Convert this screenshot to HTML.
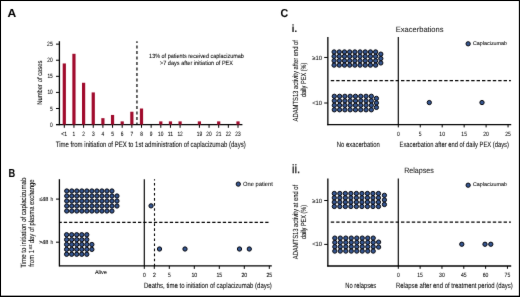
<!DOCTYPE html>
<html><head><meta charset="utf-8"><title>Figure</title>
<style>
html,body{margin:0;padding:0;background:#fff;}
body{width:520px;height:297px;overflow:hidden;}
svg{display:block;font-family:"Liberation Sans", sans-serif;will-change:transform;text-rendering:geometricPrecision;}
</style></head><body>
<svg xmlns="http://www.w3.org/2000/svg" width="520" height="297" viewBox="0 0 520 297">
<defs><filter id="soft" color-interpolation-filters="sRGB" x="0" y="0" width="520" height="297" filterUnits="userSpaceOnUse"><feConvolveMatrix order="3" kernelMatrix="0.008 0.08 0.008 0.08 1 0.08 0.008 0.08 0.008" edgeMode="duplicate" preserveAlpha="true"/></filter></defs>
<g filter="url(#soft)">
<rect x="0" y="0" width="520" height="297" fill="#fff"/>
<text x="7.40" y="16.80" font-size="11.6" font-weight="bold" fill="#000" stroke="#000" stroke-width="0.06" textLength="8.70" lengthAdjust="spacingAndGlyphs">A</text>
<line x1="59.40" y1="41.20" x2="59.40" y2="125.20" stroke="#000000" stroke-width="1.3"/>
<line x1="56.00" y1="124.60" x2="242.40" y2="124.60" stroke="#000000" stroke-width="1.3"/>
<line x1="56.00" y1="124.60" x2="59.40" y2="124.60" stroke="#000000" stroke-width="1.0"/>
<text x="50.00" y="126.60" font-size="6.32" font-weight="normal" fill="#000000" stroke="#000000" stroke-width="0.06" textLength="2.70" lengthAdjust="spacingAndGlyphs">0</text>
<line x1="56.00" y1="108.51" x2="59.40" y2="108.51" stroke="#000000" stroke-width="1.0"/>
<text x="50.00" y="110.51" font-size="6.32" font-weight="normal" fill="#000000" stroke="#000000" stroke-width="0.06" textLength="2.70" lengthAdjust="spacingAndGlyphs">5</text>
<line x1="56.00" y1="92.42" x2="59.40" y2="92.42" stroke="#000000" stroke-width="1.0"/>
<text x="47.40" y="94.42" font-size="6.32" font-weight="normal" fill="#000000" stroke="#000000" stroke-width="0.06" textLength="5.30" lengthAdjust="spacingAndGlyphs">10</text>
<line x1="56.00" y1="76.33" x2="59.40" y2="76.33" stroke="#000000" stroke-width="1.0"/>
<text x="47.40" y="78.33" font-size="6.32" font-weight="normal" fill="#000000" stroke="#000000" stroke-width="0.06" textLength="5.30" lengthAdjust="spacingAndGlyphs">15</text>
<line x1="56.00" y1="60.24" x2="59.40" y2="60.24" stroke="#000000" stroke-width="1.0"/>
<text x="47.30" y="62.24" font-size="6.32" font-weight="normal" fill="#000000" stroke="#000000" stroke-width="0.06" textLength="5.40" lengthAdjust="spacingAndGlyphs">20</text>
<line x1="56.00" y1="44.15" x2="59.40" y2="44.15" stroke="#000000" stroke-width="1.0"/>
<text x="47.10" y="46.15" font-size="6.32" font-weight="normal" fill="#000000" stroke="#000000" stroke-width="0.06" textLength="5.60" lengthAdjust="spacingAndGlyphs">25</text>
<line x1="64.30" y1="124.60" x2="64.30" y2="127.80" stroke="#000000" stroke-width="1.0"/>
<text x="61.35" y="135.80" font-size="6.32" font-weight="normal" fill="#000000" stroke="#000000" stroke-width="0.06" textLength="5.90" lengthAdjust="spacingAndGlyphs">&lt;1</text>
<rect x="62.70" y="63.46" width="3.2" height="61.14" fill="#a00a2c"/>
<line x1="73.95" y1="124.60" x2="73.95" y2="127.80" stroke="#000000" stroke-width="1.0"/>
<text x="72.60" y="135.80" font-size="6.32" font-weight="normal" fill="#000000" stroke="#000000" stroke-width="0.06" textLength="2.70" lengthAdjust="spacingAndGlyphs">1</text>
<rect x="72.35" y="53.80" width="3.2" height="70.80" fill="#a00a2c"/>
<line x1="83.60" y1="124.60" x2="83.60" y2="127.80" stroke="#000000" stroke-width="1.0"/>
<text x="82.25" y="135.80" font-size="6.32" font-weight="normal" fill="#000000" stroke="#000000" stroke-width="0.06" textLength="2.70" lengthAdjust="spacingAndGlyphs">2</text>
<rect x="82.00" y="82.77" width="3.2" height="41.83" fill="#a00a2c"/>
<line x1="93.25" y1="124.60" x2="93.25" y2="127.80" stroke="#000000" stroke-width="1.0"/>
<text x="91.90" y="135.80" font-size="6.32" font-weight="normal" fill="#000000" stroke="#000000" stroke-width="0.06" textLength="2.70" lengthAdjust="spacingAndGlyphs">3</text>
<rect x="91.65" y="92.42" width="3.2" height="32.18" fill="#a00a2c"/>
<line x1="102.90" y1="124.60" x2="102.90" y2="127.80" stroke="#000000" stroke-width="1.0"/>
<text x="101.55" y="135.80" font-size="6.32" font-weight="normal" fill="#000000" stroke="#000000" stroke-width="0.06" textLength="2.70" lengthAdjust="spacingAndGlyphs">4</text>
<rect x="101.30" y="118.16" width="3.2" height="6.44" fill="#a00a2c"/>
<line x1="112.55" y1="124.60" x2="112.55" y2="127.80" stroke="#000000" stroke-width="1.0"/>
<text x="111.20" y="135.80" font-size="6.32" font-weight="normal" fill="#000000" stroke="#000000" stroke-width="0.06" textLength="2.70" lengthAdjust="spacingAndGlyphs">5</text>
<rect x="110.95" y="114.95" width="3.2" height="9.65" fill="#a00a2c"/>
<line x1="122.20" y1="124.60" x2="122.20" y2="127.80" stroke="#000000" stroke-width="1.0"/>
<text x="120.85" y="135.80" font-size="6.32" font-weight="normal" fill="#000000" stroke="#000000" stroke-width="0.06" textLength="2.70" lengthAdjust="spacingAndGlyphs">6</text>
<rect x="120.60" y="121.38" width="3.2" height="3.22" fill="#a00a2c"/>
<line x1="131.85" y1="124.60" x2="131.85" y2="127.80" stroke="#000000" stroke-width="1.0"/>
<text x="130.50" y="135.80" font-size="6.32" font-weight="normal" fill="#000000" stroke="#000000" stroke-width="0.06" textLength="2.70" lengthAdjust="spacingAndGlyphs">7</text>
<rect x="130.25" y="111.73" width="3.2" height="12.87" fill="#a00a2c"/>
<line x1="141.50" y1="124.60" x2="141.50" y2="127.80" stroke="#000000" stroke-width="1.0"/>
<text x="140.15" y="135.80" font-size="6.32" font-weight="normal" fill="#000000" stroke="#000000" stroke-width="0.06" textLength="2.70" lengthAdjust="spacingAndGlyphs">8</text>
<rect x="139.90" y="108.51" width="3.2" height="16.09" fill="#a00a2c"/>
<line x1="151.15" y1="124.60" x2="151.15" y2="127.80" stroke="#000000" stroke-width="1.0"/>
<text x="149.80" y="135.80" font-size="6.32" font-weight="normal" fill="#000000" stroke="#000000" stroke-width="0.06" textLength="2.70" lengthAdjust="spacingAndGlyphs">9</text>
<line x1="160.80" y1="124.60" x2="160.80" y2="127.80" stroke="#000000" stroke-width="1.0"/>
<text x="158.10" y="135.80" font-size="6.32" font-weight="normal" fill="#000000" stroke="#000000" stroke-width="0.06" textLength="5.40" lengthAdjust="spacingAndGlyphs">10</text>
<rect x="159.20" y="121.38" width="3.2" height="3.22" fill="#a00a2c"/>
<line x1="170.45" y1="124.60" x2="170.45" y2="127.80" stroke="#000000" stroke-width="1.0"/>
<text x="167.75" y="135.80" font-size="6.32" font-weight="normal" fill="#000000" stroke="#000000" stroke-width="0.06" textLength="5.40" lengthAdjust="spacingAndGlyphs">11</text>
<rect x="168.85" y="121.38" width="3.2" height="3.22" fill="#a00a2c"/>
<line x1="180.10" y1="124.60" x2="180.10" y2="127.80" stroke="#000000" stroke-width="1.0"/>
<text x="177.40" y="135.80" font-size="6.32" font-weight="normal" fill="#000000" stroke="#000000" stroke-width="0.06" textLength="5.40" lengthAdjust="spacingAndGlyphs">12</text>
<rect x="178.50" y="121.38" width="3.2" height="3.22" fill="#a00a2c"/>
<line x1="199.40" y1="124.60" x2="199.40" y2="127.80" stroke="#000000" stroke-width="1.0"/>
<text x="196.70" y="135.80" font-size="6.32" font-weight="normal" fill="#000000" stroke="#000000" stroke-width="0.06" textLength="5.40" lengthAdjust="spacingAndGlyphs">19</text>
<rect x="197.80" y="121.38" width="3.2" height="3.22" fill="#a00a2c"/>
<line x1="209.05" y1="124.60" x2="209.05" y2="127.80" stroke="#000000" stroke-width="1.0"/>
<text x="206.35" y="135.80" font-size="6.32" font-weight="normal" fill="#000000" stroke="#000000" stroke-width="0.06" textLength="5.40" lengthAdjust="spacingAndGlyphs">20</text>
<line x1="218.70" y1="124.60" x2="218.70" y2="127.80" stroke="#000000" stroke-width="1.0"/>
<text x="216.00" y="135.80" font-size="6.32" font-weight="normal" fill="#000000" stroke="#000000" stroke-width="0.06" textLength="5.40" lengthAdjust="spacingAndGlyphs">21</text>
<rect x="217.10" y="121.38" width="3.2" height="3.22" fill="#a00a2c"/>
<line x1="228.35" y1="124.60" x2="228.35" y2="127.80" stroke="#000000" stroke-width="1.0"/>
<text x="225.65" y="135.80" font-size="6.32" font-weight="normal" fill="#000000" stroke="#000000" stroke-width="0.06" textLength="5.40" lengthAdjust="spacingAndGlyphs">22</text>
<line x1="238.00" y1="124.60" x2="238.00" y2="127.80" stroke="#000000" stroke-width="1.0"/>
<text x="235.30" y="135.80" font-size="6.32" font-weight="normal" fill="#000000" stroke="#000000" stroke-width="0.06" textLength="5.40" lengthAdjust="spacingAndGlyphs">23</text>
<rect x="236.40" y="121.38" width="3.2" height="3.22" fill="#a00a2c"/>
<line x1="136.95" y1="41.20" x2="136.95" y2="124.60" stroke="#000000" stroke-width="1.2" stroke-dasharray="3,2.5" stroke-dashoffset="1.2"/>
<text x="149.10" y="58.10" font-size="6.1" font-weight="normal" fill="#000000" stroke="#000000" stroke-width="0.06" textLength="94.80" lengthAdjust="spacingAndGlyphs">13% of patients received caplacizumab</text>
<text x="160.00" y="64.80" font-size="6.1" font-weight="normal" fill="#000000" stroke="#000000" stroke-width="0.06" textLength="73.00" lengthAdjust="spacingAndGlyphs">&gt;7 days after initiation of PEX</text>
<text x="55.80" y="146.50" font-size="7.79" font-weight="normal" fill="#000000" stroke="#000000" stroke-width="0.06" textLength="189.90" lengthAdjust="spacingAndGlyphs">Time from initiation of PEX to 1st administration of caplacizumab (days)</text>
<text transform="translate(41.50,104.80) rotate(-90)" x="0" y="0" font-size="6.87" fill="#000000" stroke="#000000" stroke-width="0.06" textLength="44.30" lengthAdjust="spacingAndGlyphs">Number of cases</text>
<text x="8.40" y="176.50" font-size="11.6" font-weight="bold" fill="#000" stroke="#000" stroke-width="0.06" textLength="6.70" lengthAdjust="spacingAndGlyphs">B</text>
<line x1="59.40" y1="179.20" x2="59.40" y2="266.50" stroke="#000000" stroke-width="1.3"/>
<line x1="59.40" y1="265.90" x2="271.80" y2="265.90" stroke="#000000" stroke-width="1.3"/>
<line x1="56.00" y1="199.10" x2="59.40" y2="199.10" stroke="#000000" stroke-width="1.0"/>
<text x="39.25" y="201.00" font-size="5.67" font-weight="normal" fill="#000000" stroke="#000000" stroke-width="0.06" textLength="9.05" lengthAdjust="spacingAndGlyphs">&#8804;48</text>
<text x="50.40" y="201.00" font-size="5.67" font-weight="normal" fill="#000000" stroke="#000000" stroke-width="0.06" textLength="2.70" lengthAdjust="spacingAndGlyphs">h</text>
<line x1="56.00" y1="242.20" x2="59.40" y2="242.20" stroke="#000000" stroke-width="1.0"/>
<text x="39.00" y="244.00" font-size="5.67" font-weight="normal" fill="#000000" stroke="#000000" stroke-width="0.06" textLength="9.30" lengthAdjust="spacingAndGlyphs">&gt;48</text>
<text x="50.40" y="244.00" font-size="5.67" font-weight="normal" fill="#000000" stroke="#000000" stroke-width="0.06" textLength="2.70" lengthAdjust="spacingAndGlyphs">h</text>
<line x1="144.30" y1="179.30" x2="144.30" y2="265.90" stroke="#000000" stroke-width="1.15"/>
<line x1="144.30" y1="265.90" x2="144.30" y2="268.90" stroke="#000000" stroke-width="1.0"/>
<text x="142.90" y="276.80" font-size="6.0" font-weight="normal" fill="#000000" stroke="#000000" stroke-width="0.06" textLength="2.80" lengthAdjust="spacingAndGlyphs">0</text>
<line x1="154.30" y1="265.90" x2="154.30" y2="268.90" stroke="#000000" stroke-width="1.0"/>
<text x="152.90" y="276.80" font-size="6.0" font-weight="normal" fill="#000000" stroke="#000000" stroke-width="0.06" textLength="2.80" lengthAdjust="spacingAndGlyphs">2</text>
<line x1="169.30" y1="265.90" x2="169.30" y2="268.90" stroke="#000000" stroke-width="1.0"/>
<text x="167.90" y="276.80" font-size="6.0" font-weight="normal" fill="#000000" stroke="#000000" stroke-width="0.06" textLength="2.80" lengthAdjust="spacingAndGlyphs">5</text>
<line x1="194.30" y1="265.90" x2="194.30" y2="268.90" stroke="#000000" stroke-width="1.0"/>
<text x="191.40" y="276.80" font-size="6.0" font-weight="normal" fill="#000000" stroke="#000000" stroke-width="0.06" textLength="5.80" lengthAdjust="spacingAndGlyphs">10</text>
<line x1="219.30" y1="265.90" x2="219.30" y2="268.90" stroke="#000000" stroke-width="1.0"/>
<text x="216.40" y="276.80" font-size="6.0" font-weight="normal" fill="#000000" stroke="#000000" stroke-width="0.06" textLength="5.80" lengthAdjust="spacingAndGlyphs">15</text>
<line x1="244.30" y1="265.90" x2="244.30" y2="268.90" stroke="#000000" stroke-width="1.0"/>
<text x="241.40" y="276.80" font-size="6.0" font-weight="normal" fill="#000000" stroke="#000000" stroke-width="0.06" textLength="5.80" lengthAdjust="spacingAndGlyphs">20</text>
<line x1="269.30" y1="265.90" x2="269.30" y2="268.90" stroke="#000000" stroke-width="1.0"/>
<text x="266.40" y="276.80" font-size="6.0" font-weight="normal" fill="#000000" stroke="#000000" stroke-width="0.06" textLength="5.80" lengthAdjust="spacingAndGlyphs">25</text>
<line x1="154.50" y1="179.30" x2="154.50" y2="265.90" stroke="#000000" stroke-width="1.1" stroke-dasharray="2.6,2.45" stroke-dashoffset="1.45"/>
<line x1="59.40" y1="222.40" x2="268.70" y2="222.40" stroke="#000000" stroke-width="1.2" stroke-dasharray="3.3,2.0" stroke-dashoffset="0.9"/>
<text x="94.90" y="273.80" font-size="5.56" font-weight="normal" fill="#000000" stroke="#000000" stroke-width="0.06" textLength="12.00" lengthAdjust="spacingAndGlyphs">Alive</text>
<text x="144.00" y="287.50" font-size="7.63" font-weight="normal" fill="#000000" stroke="#000000" stroke-width="0.06" textLength="127.80" lengthAdjust="spacingAndGlyphs">Deaths, time to initiation of caplacizumab (days)</text>
<text transform="translate(25.70,267.80) rotate(-90)" x="0" y="0" font-size="7.52" fill="#000000" stroke="#000000" stroke-width="0.06" textLength="90.10" lengthAdjust="spacingAndGlyphs">Time to initiation of caplacizumab</text>
<text transform="translate(33.80,266.80) rotate(-90)" x="0" y="0" font-size="7.52" fill="#000000" stroke="#000000" stroke-width="0.06" textLength="16.90" lengthAdjust="spacingAndGlyphs">from 1</text>
<text transform="translate(31.60,249.40) rotate(-90)" x="0" y="0" font-size="4.69" fill="#000000" stroke="#000000" stroke-width="0.06" textLength="5.00" lengthAdjust="spacingAndGlyphs">st</text>
<text transform="translate(33.80,243.20) rotate(-90)" x="0" y="0" font-size="7.52" fill="#000000" stroke="#000000" stroke-width="0.06" textLength="63.80" lengthAdjust="spacingAndGlyphs">day of plasma exchange</text>
<circle cx="66.75" cy="191.00" r="2.15" fill="#355691" stroke="#05060c" stroke-width="1.0"/>
<circle cx="71.77" cy="191.00" r="2.15" fill="#355691" stroke="#05060c" stroke-width="1.0"/>
<circle cx="76.79" cy="191.00" r="2.15" fill="#355691" stroke="#05060c" stroke-width="1.0"/>
<circle cx="81.81" cy="191.00" r="2.15" fill="#355691" stroke="#05060c" stroke-width="1.0"/>
<circle cx="86.83" cy="191.00" r="2.15" fill="#355691" stroke="#05060c" stroke-width="1.0"/>
<circle cx="91.85" cy="191.00" r="2.15" fill="#355691" stroke="#05060c" stroke-width="1.0"/>
<circle cx="96.87" cy="191.00" r="2.15" fill="#355691" stroke="#05060c" stroke-width="1.0"/>
<circle cx="101.89" cy="191.00" r="2.15" fill="#355691" stroke="#05060c" stroke-width="1.0"/>
<circle cx="106.91" cy="191.00" r="2.15" fill="#355691" stroke="#05060c" stroke-width="1.0"/>
<circle cx="111.93" cy="191.00" r="2.15" fill="#355691" stroke="#05060c" stroke-width="1.0"/>
<circle cx="66.75" cy="196.00" r="2.15" fill="#355691" stroke="#05060c" stroke-width="1.0"/>
<circle cx="71.77" cy="196.00" r="2.15" fill="#355691" stroke="#05060c" stroke-width="1.0"/>
<circle cx="76.79" cy="196.00" r="2.15" fill="#355691" stroke="#05060c" stroke-width="1.0"/>
<circle cx="81.81" cy="196.00" r="2.15" fill="#355691" stroke="#05060c" stroke-width="1.0"/>
<circle cx="86.83" cy="196.00" r="2.15" fill="#355691" stroke="#05060c" stroke-width="1.0"/>
<circle cx="91.85" cy="196.00" r="2.15" fill="#355691" stroke="#05060c" stroke-width="1.0"/>
<circle cx="96.87" cy="196.00" r="2.15" fill="#355691" stroke="#05060c" stroke-width="1.0"/>
<circle cx="101.89" cy="196.00" r="2.15" fill="#355691" stroke="#05060c" stroke-width="1.0"/>
<circle cx="106.91" cy="196.00" r="2.15" fill="#355691" stroke="#05060c" stroke-width="1.0"/>
<circle cx="111.93" cy="196.00" r="2.15" fill="#355691" stroke="#05060c" stroke-width="1.0"/>
<circle cx="66.75" cy="201.00" r="2.15" fill="#355691" stroke="#05060c" stroke-width="1.0"/>
<circle cx="71.77" cy="201.00" r="2.15" fill="#355691" stroke="#05060c" stroke-width="1.0"/>
<circle cx="76.79" cy="201.00" r="2.15" fill="#355691" stroke="#05060c" stroke-width="1.0"/>
<circle cx="81.81" cy="201.00" r="2.15" fill="#355691" stroke="#05060c" stroke-width="1.0"/>
<circle cx="86.83" cy="201.00" r="2.15" fill="#355691" stroke="#05060c" stroke-width="1.0"/>
<circle cx="91.85" cy="201.00" r="2.15" fill="#355691" stroke="#05060c" stroke-width="1.0"/>
<circle cx="96.87" cy="201.00" r="2.15" fill="#355691" stroke="#05060c" stroke-width="1.0"/>
<circle cx="101.89" cy="201.00" r="2.15" fill="#355691" stroke="#05060c" stroke-width="1.0"/>
<circle cx="106.91" cy="201.00" r="2.15" fill="#355691" stroke="#05060c" stroke-width="1.0"/>
<circle cx="111.93" cy="201.00" r="2.15" fill="#355691" stroke="#05060c" stroke-width="1.0"/>
<circle cx="66.75" cy="206.00" r="2.15" fill="#355691" stroke="#05060c" stroke-width="1.0"/>
<circle cx="71.77" cy="206.00" r="2.15" fill="#355691" stroke="#05060c" stroke-width="1.0"/>
<circle cx="76.79" cy="206.00" r="2.15" fill="#355691" stroke="#05060c" stroke-width="1.0"/>
<circle cx="81.81" cy="206.00" r="2.15" fill="#355691" stroke="#05060c" stroke-width="1.0"/>
<circle cx="86.83" cy="206.00" r="2.15" fill="#355691" stroke="#05060c" stroke-width="1.0"/>
<circle cx="91.85" cy="206.00" r="2.15" fill="#355691" stroke="#05060c" stroke-width="1.0"/>
<circle cx="96.87" cy="206.00" r="2.15" fill="#355691" stroke="#05060c" stroke-width="1.0"/>
<circle cx="101.89" cy="206.00" r="2.15" fill="#355691" stroke="#05060c" stroke-width="1.0"/>
<circle cx="106.91" cy="206.00" r="2.15" fill="#355691" stroke="#05060c" stroke-width="1.0"/>
<circle cx="111.93" cy="206.00" r="2.15" fill="#355691" stroke="#05060c" stroke-width="1.0"/>
<circle cx="66.75" cy="211.00" r="2.15" fill="#355691" stroke="#05060c" stroke-width="1.0"/>
<circle cx="71.77" cy="211.00" r="2.15" fill="#355691" stroke="#05060c" stroke-width="1.0"/>
<circle cx="76.79" cy="211.00" r="2.15" fill="#355691" stroke="#05060c" stroke-width="1.0"/>
<circle cx="81.81" cy="211.00" r="2.15" fill="#355691" stroke="#05060c" stroke-width="1.0"/>
<circle cx="86.83" cy="211.00" r="2.15" fill="#355691" stroke="#05060c" stroke-width="1.0"/>
<circle cx="91.85" cy="211.00" r="2.15" fill="#355691" stroke="#05060c" stroke-width="1.0"/>
<circle cx="96.87" cy="211.00" r="2.15" fill="#355691" stroke="#05060c" stroke-width="1.0"/>
<circle cx="101.89" cy="211.00" r="2.15" fill="#355691" stroke="#05060c" stroke-width="1.0"/>
<circle cx="106.91" cy="211.00" r="2.15" fill="#355691" stroke="#05060c" stroke-width="1.0"/>
<circle cx="111.93" cy="211.00" r="2.15" fill="#355691" stroke="#05060c" stroke-width="1.0"/>
<circle cx="116.95" cy="196.00" r="2.15" fill="#355691" stroke="#05060c" stroke-width="1.0"/>
<circle cx="116.95" cy="201.00" r="2.15" fill="#355691" stroke="#05060c" stroke-width="1.0"/>
<circle cx="116.95" cy="206.00" r="2.15" fill="#355691" stroke="#05060c" stroke-width="1.0"/>
<circle cx="66.60" cy="234.75" r="2.15" fill="#355691" stroke="#05060c" stroke-width="1.0"/>
<circle cx="71.65" cy="234.75" r="2.15" fill="#355691" stroke="#05060c" stroke-width="1.0"/>
<circle cx="76.70" cy="234.75" r="2.15" fill="#355691" stroke="#05060c" stroke-width="1.0"/>
<circle cx="81.75" cy="234.75" r="2.15" fill="#355691" stroke="#05060c" stroke-width="1.0"/>
<circle cx="86.80" cy="234.75" r="2.15" fill="#355691" stroke="#05060c" stroke-width="1.0"/>
<circle cx="66.60" cy="239.63" r="2.15" fill="#355691" stroke="#05060c" stroke-width="1.0"/>
<circle cx="71.65" cy="239.63" r="2.15" fill="#355691" stroke="#05060c" stroke-width="1.0"/>
<circle cx="76.70" cy="239.63" r="2.15" fill="#355691" stroke="#05060c" stroke-width="1.0"/>
<circle cx="81.75" cy="239.63" r="2.15" fill="#355691" stroke="#05060c" stroke-width="1.0"/>
<circle cx="86.80" cy="239.63" r="2.15" fill="#355691" stroke="#05060c" stroke-width="1.0"/>
<circle cx="66.60" cy="244.51" r="2.15" fill="#355691" stroke="#05060c" stroke-width="1.0"/>
<circle cx="71.65" cy="244.51" r="2.15" fill="#355691" stroke="#05060c" stroke-width="1.0"/>
<circle cx="76.70" cy="244.51" r="2.15" fill="#355691" stroke="#05060c" stroke-width="1.0"/>
<circle cx="81.75" cy="244.51" r="2.15" fill="#355691" stroke="#05060c" stroke-width="1.0"/>
<circle cx="86.80" cy="244.51" r="2.15" fill="#355691" stroke="#05060c" stroke-width="1.0"/>
<circle cx="66.60" cy="249.39" r="2.15" fill="#355691" stroke="#05060c" stroke-width="1.0"/>
<circle cx="71.65" cy="249.39" r="2.15" fill="#355691" stroke="#05060c" stroke-width="1.0"/>
<circle cx="76.70" cy="249.39" r="2.15" fill="#355691" stroke="#05060c" stroke-width="1.0"/>
<circle cx="81.75" cy="249.39" r="2.15" fill="#355691" stroke="#05060c" stroke-width="1.0"/>
<circle cx="86.80" cy="249.39" r="2.15" fill="#355691" stroke="#05060c" stroke-width="1.0"/>
<circle cx="66.60" cy="254.27" r="2.15" fill="#355691" stroke="#05060c" stroke-width="1.0"/>
<circle cx="71.65" cy="254.27" r="2.15" fill="#355691" stroke="#05060c" stroke-width="1.0"/>
<circle cx="76.70" cy="254.27" r="2.15" fill="#355691" stroke="#05060c" stroke-width="1.0"/>
<circle cx="81.75" cy="254.27" r="2.15" fill="#355691" stroke="#05060c" stroke-width="1.0"/>
<circle cx="86.80" cy="254.27" r="2.15" fill="#355691" stroke="#05060c" stroke-width="1.0"/>
<circle cx="91.85" cy="244.51" r="2.15" fill="#355691" stroke="#05060c" stroke-width="1.0"/>
<circle cx="91.85" cy="249.39" r="2.15" fill="#355691" stroke="#05060c" stroke-width="1.0"/>
<circle cx="151.05" cy="205.85" r="2.15" fill="#355691" stroke="#05060c" stroke-width="1.0"/>
<circle cx="159.50" cy="249.00" r="2.15" fill="#355691" stroke="#05060c" stroke-width="1.0"/>
<circle cx="185.00" cy="249.00" r="2.15" fill="#355691" stroke="#05060c" stroke-width="1.0"/>
<circle cx="239.50" cy="249.00" r="2.15" fill="#355691" stroke="#05060c" stroke-width="1.0"/>
<circle cx="249.30" cy="249.00" r="2.15" fill="#355691" stroke="#05060c" stroke-width="1.0"/>
<circle cx="238.30" cy="184.10" r="2.15" fill="#355691" stroke="#05060c" stroke-width="1.0"/>
<text x="243.00" y="185.90" font-size="5.89" font-weight="normal" fill="#000000" stroke="#000000" stroke-width="0.06" textLength="29.80" lengthAdjust="spacingAndGlyphs">One patient</text>
<text x="280.50" y="17.20" font-size="11.6" font-weight="bold" fill="#000" stroke="#000" stroke-width="0.06" textLength="7.70" lengthAdjust="spacingAndGlyphs">C</text>
<text x="291.80" y="31.70" font-size="10.5" font-weight="bold" fill="#000" stroke="#000" stroke-width="0.06" textLength="5.20" lengthAdjust="spacingAndGlyphs">i.</text>
<text x="395.80" y="31.70" font-size="7.74" font-weight="normal" fill="#141414" stroke="#141414" stroke-width="0.06" textLength="47.70" lengthAdjust="spacingAndGlyphs">Exacerbations</text>
<line x1="327.85" y1="37.10" x2="327.85" y2="125.20" stroke="#000000" stroke-width="1.3"/>
<line x1="398.30" y1="37.10" x2="398.30" y2="124.60" stroke="#000000" stroke-width="1.15"/>
<line x1="327.25" y1="124.60" x2="511.20" y2="124.60" stroke="#000000" stroke-width="1.3"/>
<line x1="330.80" y1="80.60" x2="510.90" y2="80.60" stroke="#000000" stroke-width="1.25" stroke-dasharray="3.4,2.0"/>
<line x1="324.20" y1="57.45" x2="327.85" y2="57.45" stroke="#000000" stroke-width="1.0"/>
<text x="312.20" y="59.65" font-size="6.1" font-weight="normal" fill="#000000" stroke="#000000" stroke-width="0.06" textLength="9.80" lengthAdjust="spacingAndGlyphs">&#8805;10</text>
<line x1="324.20" y1="103.00" x2="327.85" y2="103.00" stroke="#000000" stroke-width="1.0"/>
<text x="312.20" y="104.70" font-size="6.1" font-weight="normal" fill="#000000" stroke="#000000" stroke-width="0.06" textLength="9.80" lengthAdjust="spacingAndGlyphs">&lt;10</text>
<line x1="398.30" y1="124.60" x2="398.30" y2="127.40" stroke="#000000" stroke-width="1.0"/>
<text x="396.90" y="135.80" font-size="6.21" font-weight="normal" fill="#000000" stroke="#000000" stroke-width="0.06" textLength="2.80" lengthAdjust="spacingAndGlyphs">0</text>
<line x1="420.25" y1="124.60" x2="420.25" y2="127.40" stroke="#000000" stroke-width="1.0"/>
<text x="418.85" y="135.80" font-size="6.21" font-weight="normal" fill="#000000" stroke="#000000" stroke-width="0.06" textLength="2.80" lengthAdjust="spacingAndGlyphs">5</text>
<line x1="442.20" y1="124.60" x2="442.20" y2="127.40" stroke="#000000" stroke-width="1.0"/>
<text x="439.35" y="135.80" font-size="6.21" font-weight="normal" fill="#000000" stroke="#000000" stroke-width="0.06" textLength="5.70" lengthAdjust="spacingAndGlyphs">10</text>
<line x1="464.15" y1="124.60" x2="464.15" y2="127.40" stroke="#000000" stroke-width="1.0"/>
<text x="461.30" y="135.80" font-size="6.21" font-weight="normal" fill="#000000" stroke="#000000" stroke-width="0.06" textLength="5.70" lengthAdjust="spacingAndGlyphs">15</text>
<line x1="486.10" y1="124.60" x2="486.10" y2="127.40" stroke="#000000" stroke-width="1.0"/>
<text x="483.25" y="135.80" font-size="6.21" font-weight="normal" fill="#000000" stroke="#000000" stroke-width="0.06" textLength="5.70" lengthAdjust="spacingAndGlyphs">20</text>
<line x1="508.05" y1="124.60" x2="508.05" y2="127.40" stroke="#000000" stroke-width="1.0"/>
<text x="505.20" y="135.80" font-size="6.21" font-weight="normal" fill="#000000" stroke="#000000" stroke-width="0.06" textLength="5.70" lengthAdjust="spacingAndGlyphs">25</text>
<text x="399.55" y="146.50" font-size="7.63" font-weight="normal" fill="#000000" stroke="#000000" stroke-width="0.06" textLength="109.35" lengthAdjust="spacingAndGlyphs">Exacerbation after end of daily PEX (days)</text>
<text x="336.80" y="146.70" font-size="7.63" font-weight="normal" fill="#000000" stroke="#000000" stroke-width="0.06" textLength="43.00" lengthAdjust="spacingAndGlyphs">No exacerbation</text>
<text transform="translate(298.00,121.40) rotate(-90)" x="0" y="0" font-size="7.41" fill="#000000" stroke="#000000" stroke-width="0.06" textLength="81.30" lengthAdjust="spacingAndGlyphs">ADAMTS13 activity after end of</text>
<text transform="translate(306.40,97.10) rotate(-90)" x="0" y="0" font-size="7.41" fill="#000000" stroke="#000000" stroke-width="0.06" textLength="34.50" lengthAdjust="spacingAndGlyphs">daily PEX (%)</text>
<circle cx="429.30" cy="102.55" r="2.15" fill="#355691" stroke="#05060c" stroke-width="1.0"/>
<circle cx="482.00" cy="102.55" r="2.15" fill="#355691" stroke="#05060c" stroke-width="1.0"/>
<circle cx="468.15" cy="43.80" r="2.15" fill="#355691" stroke="#05060c" stroke-width="1.0"/>
<text x="473.00" y="44.90" font-size="5.34" font-weight="normal" fill="#000000" stroke="#000000" stroke-width="0.06" textLength="34.00" lengthAdjust="spacingAndGlyphs">Caplacizumab</text>
<circle cx="334.10" cy="51.95" r="2.15" fill="#355691" stroke="#05060c" stroke-width="1.0"/>
<circle cx="339.29" cy="51.95" r="2.15" fill="#355691" stroke="#05060c" stroke-width="1.0"/>
<circle cx="344.48" cy="51.95" r="2.15" fill="#355691" stroke="#05060c" stroke-width="1.0"/>
<circle cx="349.67" cy="51.95" r="2.15" fill="#355691" stroke="#05060c" stroke-width="1.0"/>
<circle cx="354.86" cy="51.95" r="2.15" fill="#355691" stroke="#05060c" stroke-width="1.0"/>
<circle cx="360.05" cy="51.95" r="2.15" fill="#355691" stroke="#05060c" stroke-width="1.0"/>
<circle cx="365.24" cy="51.95" r="2.15" fill="#355691" stroke="#05060c" stroke-width="1.0"/>
<circle cx="370.43" cy="51.95" r="2.15" fill="#355691" stroke="#05060c" stroke-width="1.0"/>
<circle cx="375.62" cy="51.95" r="2.15" fill="#355691" stroke="#05060c" stroke-width="1.0"/>
<circle cx="334.10" cy="56.35" r="2.15" fill="#355691" stroke="#05060c" stroke-width="1.0"/>
<circle cx="339.29" cy="56.35" r="2.15" fill="#355691" stroke="#05060c" stroke-width="1.0"/>
<circle cx="344.48" cy="56.35" r="2.15" fill="#355691" stroke="#05060c" stroke-width="1.0"/>
<circle cx="349.67" cy="56.35" r="2.15" fill="#355691" stroke="#05060c" stroke-width="1.0"/>
<circle cx="354.86" cy="56.35" r="2.15" fill="#355691" stroke="#05060c" stroke-width="1.0"/>
<circle cx="360.05" cy="56.35" r="2.15" fill="#355691" stroke="#05060c" stroke-width="1.0"/>
<circle cx="365.24" cy="56.35" r="2.15" fill="#355691" stroke="#05060c" stroke-width="1.0"/>
<circle cx="370.43" cy="56.35" r="2.15" fill="#355691" stroke="#05060c" stroke-width="1.0"/>
<circle cx="375.62" cy="56.35" r="2.15" fill="#355691" stroke="#05060c" stroke-width="1.0"/>
<circle cx="334.10" cy="60.75" r="2.15" fill="#355691" stroke="#05060c" stroke-width="1.0"/>
<circle cx="339.29" cy="60.75" r="2.15" fill="#355691" stroke="#05060c" stroke-width="1.0"/>
<circle cx="344.48" cy="60.75" r="2.15" fill="#355691" stroke="#05060c" stroke-width="1.0"/>
<circle cx="349.67" cy="60.75" r="2.15" fill="#355691" stroke="#05060c" stroke-width="1.0"/>
<circle cx="354.86" cy="60.75" r="2.15" fill="#355691" stroke="#05060c" stroke-width="1.0"/>
<circle cx="360.05" cy="60.75" r="2.15" fill="#355691" stroke="#05060c" stroke-width="1.0"/>
<circle cx="365.24" cy="60.75" r="2.15" fill="#355691" stroke="#05060c" stroke-width="1.0"/>
<circle cx="370.43" cy="60.75" r="2.15" fill="#355691" stroke="#05060c" stroke-width="1.0"/>
<circle cx="375.62" cy="60.75" r="2.15" fill="#355691" stroke="#05060c" stroke-width="1.0"/>
<circle cx="334.10" cy="65.15" r="2.15" fill="#355691" stroke="#05060c" stroke-width="1.0"/>
<circle cx="339.29" cy="65.15" r="2.15" fill="#355691" stroke="#05060c" stroke-width="1.0"/>
<circle cx="344.48" cy="65.15" r="2.15" fill="#355691" stroke="#05060c" stroke-width="1.0"/>
<circle cx="349.67" cy="65.15" r="2.15" fill="#355691" stroke="#05060c" stroke-width="1.0"/>
<circle cx="354.86" cy="65.15" r="2.15" fill="#355691" stroke="#05060c" stroke-width="1.0"/>
<circle cx="360.05" cy="65.15" r="2.15" fill="#355691" stroke="#05060c" stroke-width="1.0"/>
<circle cx="365.24" cy="65.15" r="2.15" fill="#355691" stroke="#05060c" stroke-width="1.0"/>
<circle cx="370.43" cy="65.15" r="2.15" fill="#355691" stroke="#05060c" stroke-width="1.0"/>
<circle cx="375.62" cy="65.15" r="2.15" fill="#355691" stroke="#05060c" stroke-width="1.0"/>
<circle cx="380.80" cy="54.15" r="2.15" fill="#355691" stroke="#05060c" stroke-width="1.0"/>
<circle cx="380.80" cy="58.55" r="2.15" fill="#355691" stroke="#05060c" stroke-width="1.0"/>
<circle cx="380.80" cy="62.95" r="2.15" fill="#355691" stroke="#05060c" stroke-width="1.0"/>
<circle cx="334.30" cy="96.30" r="2.15" fill="#355691" stroke="#05060c" stroke-width="1.0"/>
<circle cx="339.59" cy="96.30" r="2.15" fill="#355691" stroke="#05060c" stroke-width="1.0"/>
<circle cx="344.88" cy="96.30" r="2.15" fill="#355691" stroke="#05060c" stroke-width="1.0"/>
<circle cx="350.17" cy="96.30" r="2.15" fill="#355691" stroke="#05060c" stroke-width="1.0"/>
<circle cx="355.46" cy="96.30" r="2.15" fill="#355691" stroke="#05060c" stroke-width="1.0"/>
<circle cx="360.75" cy="96.30" r="2.15" fill="#355691" stroke="#05060c" stroke-width="1.0"/>
<circle cx="366.04" cy="96.30" r="2.15" fill="#355691" stroke="#05060c" stroke-width="1.0"/>
<circle cx="371.33" cy="96.30" r="2.15" fill="#355691" stroke="#05060c" stroke-width="1.0"/>
<circle cx="334.30" cy="100.80" r="2.15" fill="#355691" stroke="#05060c" stroke-width="1.0"/>
<circle cx="339.59" cy="100.80" r="2.15" fill="#355691" stroke="#05060c" stroke-width="1.0"/>
<circle cx="344.88" cy="100.80" r="2.15" fill="#355691" stroke="#05060c" stroke-width="1.0"/>
<circle cx="350.17" cy="100.80" r="2.15" fill="#355691" stroke="#05060c" stroke-width="1.0"/>
<circle cx="355.46" cy="100.80" r="2.15" fill="#355691" stroke="#05060c" stroke-width="1.0"/>
<circle cx="360.75" cy="100.80" r="2.15" fill="#355691" stroke="#05060c" stroke-width="1.0"/>
<circle cx="366.04" cy="100.80" r="2.15" fill="#355691" stroke="#05060c" stroke-width="1.0"/>
<circle cx="371.33" cy="100.80" r="2.15" fill="#355691" stroke="#05060c" stroke-width="1.0"/>
<circle cx="334.30" cy="105.30" r="2.15" fill="#355691" stroke="#05060c" stroke-width="1.0"/>
<circle cx="339.59" cy="105.30" r="2.15" fill="#355691" stroke="#05060c" stroke-width="1.0"/>
<circle cx="344.88" cy="105.30" r="2.15" fill="#355691" stroke="#05060c" stroke-width="1.0"/>
<circle cx="350.17" cy="105.30" r="2.15" fill="#355691" stroke="#05060c" stroke-width="1.0"/>
<circle cx="355.46" cy="105.30" r="2.15" fill="#355691" stroke="#05060c" stroke-width="1.0"/>
<circle cx="360.75" cy="105.30" r="2.15" fill="#355691" stroke="#05060c" stroke-width="1.0"/>
<circle cx="366.04" cy="105.30" r="2.15" fill="#355691" stroke="#05060c" stroke-width="1.0"/>
<circle cx="371.33" cy="105.30" r="2.15" fill="#355691" stroke="#05060c" stroke-width="1.0"/>
<circle cx="334.30" cy="109.80" r="2.15" fill="#355691" stroke="#05060c" stroke-width="1.0"/>
<circle cx="339.59" cy="109.80" r="2.15" fill="#355691" stroke="#05060c" stroke-width="1.0"/>
<circle cx="344.88" cy="109.80" r="2.15" fill="#355691" stroke="#05060c" stroke-width="1.0"/>
<circle cx="350.17" cy="109.80" r="2.15" fill="#355691" stroke="#05060c" stroke-width="1.0"/>
<circle cx="355.46" cy="109.80" r="2.15" fill="#355691" stroke="#05060c" stroke-width="1.0"/>
<circle cx="360.75" cy="109.80" r="2.15" fill="#355691" stroke="#05060c" stroke-width="1.0"/>
<circle cx="366.04" cy="109.80" r="2.15" fill="#355691" stroke="#05060c" stroke-width="1.0"/>
<circle cx="371.33" cy="109.80" r="2.15" fill="#355691" stroke="#05060c" stroke-width="1.0"/>
<circle cx="376.40" cy="98.40" r="2.15" fill="#355691" stroke="#05060c" stroke-width="1.0"/>
<circle cx="376.40" cy="102.90" r="2.15" fill="#355691" stroke="#05060c" stroke-width="1.0"/>
<circle cx="376.40" cy="107.40" r="2.15" fill="#355691" stroke="#05060c" stroke-width="1.0"/>
<text x="291.90" y="172.90" font-size="12.2" fill="#262626" stroke="#262626" stroke-width="0.3" textLength="8.20" lengthAdjust="spacingAndGlyphs">ii.</text>
<text x="404.20" y="173.40" font-size="7.74" font-weight="normal" fill="#141414" stroke="#141414" stroke-width="0.06" textLength="29.60" lengthAdjust="spacingAndGlyphs">Relapses</text>
<line x1="327.85" y1="178.50" x2="327.85" y2="266.60" stroke="#000000" stroke-width="1.3"/>
<line x1="398.30" y1="178.50" x2="398.30" y2="266.00" stroke="#000000" stroke-width="1.15"/>
<line x1="327.25" y1="266.00" x2="511.20" y2="266.00" stroke="#000000" stroke-width="1.3"/>
<line x1="330.80" y1="222.00" x2="510.90" y2="222.00" stroke="#000000" stroke-width="1.25" stroke-dasharray="3.4,2.0"/>
<line x1="324.20" y1="200.50" x2="327.85" y2="200.50" stroke="#000000" stroke-width="1.0"/>
<text x="312.20" y="202.70" font-size="6.1" font-weight="normal" fill="#000000" stroke="#000000" stroke-width="0.06" textLength="9.80" lengthAdjust="spacingAndGlyphs">&#8805;10</text>
<line x1="324.20" y1="244.40" x2="327.85" y2="244.40" stroke="#000000" stroke-width="1.0"/>
<text x="312.20" y="246.10" font-size="6.1" font-weight="normal" fill="#000000" stroke="#000000" stroke-width="0.06" textLength="9.80" lengthAdjust="spacingAndGlyphs">&lt;10</text>
<line x1="398.30" y1="266.00" x2="398.30" y2="268.80" stroke="#000000" stroke-width="1.0"/>
<text x="396.90" y="277.20" font-size="6.21" font-weight="normal" fill="#000000" stroke="#000000" stroke-width="0.06" textLength="2.80" lengthAdjust="spacingAndGlyphs">0</text>
<line x1="420.13" y1="266.00" x2="420.13" y2="268.80" stroke="#000000" stroke-width="1.0"/>
<text x="417.28" y="277.20" font-size="6.21" font-weight="normal" fill="#000000" stroke="#000000" stroke-width="0.06" textLength="5.70" lengthAdjust="spacingAndGlyphs">15</text>
<line x1="441.96" y1="266.00" x2="441.96" y2="268.80" stroke="#000000" stroke-width="1.0"/>
<text x="439.11" y="277.20" font-size="6.21" font-weight="normal" fill="#000000" stroke="#000000" stroke-width="0.06" textLength="5.70" lengthAdjust="spacingAndGlyphs">30</text>
<line x1="463.79" y1="266.00" x2="463.79" y2="268.80" stroke="#000000" stroke-width="1.0"/>
<text x="460.94" y="277.20" font-size="6.21" font-weight="normal" fill="#000000" stroke="#000000" stroke-width="0.06" textLength="5.70" lengthAdjust="spacingAndGlyphs">45</text>
<line x1="485.62" y1="266.00" x2="485.62" y2="268.80" stroke="#000000" stroke-width="1.0"/>
<text x="482.77" y="277.20" font-size="6.21" font-weight="normal" fill="#000000" stroke="#000000" stroke-width="0.06" textLength="5.70" lengthAdjust="spacingAndGlyphs">60</text>
<line x1="507.45" y1="266.00" x2="507.45" y2="268.80" stroke="#000000" stroke-width="1.0"/>
<text x="504.60" y="277.20" font-size="6.21" font-weight="normal" fill="#000000" stroke="#000000" stroke-width="0.06" textLength="5.70" lengthAdjust="spacingAndGlyphs">75</text>
<text x="396.00" y="287.90" font-size="7.63" font-weight="normal" fill="#000000" stroke="#000000" stroke-width="0.06" textLength="116.80" lengthAdjust="spacingAndGlyphs">Relapse after end of treatment period (days)</text>
<text x="345.20" y="288.10" font-size="7.63" font-weight="normal" fill="#000000" stroke="#000000" stroke-width="0.06" textLength="31.00" lengthAdjust="spacingAndGlyphs">No relapses</text>
<text transform="translate(298.00,259.20) rotate(-90)" x="0" y="0" font-size="7.41" fill="#000000" stroke="#000000" stroke-width="0.06" textLength="74.30" lengthAdjust="spacingAndGlyphs">ADAMTS13 activity at end of</text>
<text transform="translate(306.40,239.00) rotate(-90)" x="0" y="0" font-size="7.41" fill="#000000" stroke="#000000" stroke-width="0.06" textLength="34.10" lengthAdjust="spacingAndGlyphs">daily PEX (%)</text>
<circle cx="461.80" cy="244.25" r="2.15" fill="#355691" stroke="#05060c" stroke-width="1.0"/>
<circle cx="485.00" cy="244.25" r="2.15" fill="#355691" stroke="#05060c" stroke-width="1.0"/>
<circle cx="490.80" cy="244.25" r="2.15" fill="#355691" stroke="#05060c" stroke-width="1.0"/>
<circle cx="468.15" cy="185.20" r="2.15" fill="#355691" stroke="#05060c" stroke-width="1.0"/>
<text x="473.00" y="186.30" font-size="5.34" font-weight="normal" fill="#000000" stroke="#000000" stroke-width="0.06" textLength="34.00" lengthAdjust="spacingAndGlyphs">Caplacizumab</text>
<circle cx="334.30" cy="193.50" r="2.15" fill="#355691" stroke="#05060c" stroke-width="1.0"/>
<circle cx="339.82" cy="193.50" r="2.15" fill="#355691" stroke="#05060c" stroke-width="1.0"/>
<circle cx="345.34" cy="193.50" r="2.15" fill="#355691" stroke="#05060c" stroke-width="1.0"/>
<circle cx="350.86" cy="193.50" r="2.15" fill="#355691" stroke="#05060c" stroke-width="1.0"/>
<circle cx="356.38" cy="193.50" r="2.15" fill="#355691" stroke="#05060c" stroke-width="1.0"/>
<circle cx="361.90" cy="193.50" r="2.15" fill="#355691" stroke="#05060c" stroke-width="1.0"/>
<circle cx="367.42" cy="193.50" r="2.15" fill="#355691" stroke="#05060c" stroke-width="1.0"/>
<circle cx="372.94" cy="193.50" r="2.15" fill="#355691" stroke="#05060c" stroke-width="1.0"/>
<circle cx="378.46" cy="193.50" r="2.15" fill="#355691" stroke="#05060c" stroke-width="1.0"/>
<circle cx="334.30" cy="197.83" r="2.15" fill="#355691" stroke="#05060c" stroke-width="1.0"/>
<circle cx="339.82" cy="197.83" r="2.15" fill="#355691" stroke="#05060c" stroke-width="1.0"/>
<circle cx="345.34" cy="197.83" r="2.15" fill="#355691" stroke="#05060c" stroke-width="1.0"/>
<circle cx="350.86" cy="197.83" r="2.15" fill="#355691" stroke="#05060c" stroke-width="1.0"/>
<circle cx="356.38" cy="197.83" r="2.15" fill="#355691" stroke="#05060c" stroke-width="1.0"/>
<circle cx="361.90" cy="197.83" r="2.15" fill="#355691" stroke="#05060c" stroke-width="1.0"/>
<circle cx="367.42" cy="197.83" r="2.15" fill="#355691" stroke="#05060c" stroke-width="1.0"/>
<circle cx="372.94" cy="197.83" r="2.15" fill="#355691" stroke="#05060c" stroke-width="1.0"/>
<circle cx="378.46" cy="197.83" r="2.15" fill="#355691" stroke="#05060c" stroke-width="1.0"/>
<circle cx="334.30" cy="202.16" r="2.15" fill="#355691" stroke="#05060c" stroke-width="1.0"/>
<circle cx="339.82" cy="202.16" r="2.15" fill="#355691" stroke="#05060c" stroke-width="1.0"/>
<circle cx="345.34" cy="202.16" r="2.15" fill="#355691" stroke="#05060c" stroke-width="1.0"/>
<circle cx="350.86" cy="202.16" r="2.15" fill="#355691" stroke="#05060c" stroke-width="1.0"/>
<circle cx="356.38" cy="202.16" r="2.15" fill="#355691" stroke="#05060c" stroke-width="1.0"/>
<circle cx="361.90" cy="202.16" r="2.15" fill="#355691" stroke="#05060c" stroke-width="1.0"/>
<circle cx="367.42" cy="202.16" r="2.15" fill="#355691" stroke="#05060c" stroke-width="1.0"/>
<circle cx="372.94" cy="202.16" r="2.15" fill="#355691" stroke="#05060c" stroke-width="1.0"/>
<circle cx="378.46" cy="202.16" r="2.15" fill="#355691" stroke="#05060c" stroke-width="1.0"/>
<circle cx="334.30" cy="206.49" r="2.15" fill="#355691" stroke="#05060c" stroke-width="1.0"/>
<circle cx="339.82" cy="206.49" r="2.15" fill="#355691" stroke="#05060c" stroke-width="1.0"/>
<circle cx="345.34" cy="206.49" r="2.15" fill="#355691" stroke="#05060c" stroke-width="1.0"/>
<circle cx="350.86" cy="206.49" r="2.15" fill="#355691" stroke="#05060c" stroke-width="1.0"/>
<circle cx="356.38" cy="206.49" r="2.15" fill="#355691" stroke="#05060c" stroke-width="1.0"/>
<circle cx="361.90" cy="206.49" r="2.15" fill="#355691" stroke="#05060c" stroke-width="1.0"/>
<circle cx="367.42" cy="206.49" r="2.15" fill="#355691" stroke="#05060c" stroke-width="1.0"/>
<circle cx="372.94" cy="206.49" r="2.15" fill="#355691" stroke="#05060c" stroke-width="1.0"/>
<circle cx="378.46" cy="206.49" r="2.15" fill="#355691" stroke="#05060c" stroke-width="1.0"/>
<circle cx="384.40" cy="195.30" r="2.15" fill="#355691" stroke="#05060c" stroke-width="1.0"/>
<circle cx="384.40" cy="199.90" r="2.15" fill="#355691" stroke="#05060c" stroke-width="1.0"/>
<circle cx="384.40" cy="204.50" r="2.15" fill="#355691" stroke="#05060c" stroke-width="1.0"/>
<circle cx="334.80" cy="238.10" r="2.15" fill="#355691" stroke="#05060c" stroke-width="1.0"/>
<circle cx="340.29" cy="238.10" r="2.15" fill="#355691" stroke="#05060c" stroke-width="1.0"/>
<circle cx="345.78" cy="238.10" r="2.15" fill="#355691" stroke="#05060c" stroke-width="1.0"/>
<circle cx="351.27" cy="238.10" r="2.15" fill="#355691" stroke="#05060c" stroke-width="1.0"/>
<circle cx="356.76" cy="238.10" r="2.15" fill="#355691" stroke="#05060c" stroke-width="1.0"/>
<circle cx="362.25" cy="238.10" r="2.15" fill="#355691" stroke="#05060c" stroke-width="1.0"/>
<circle cx="367.74" cy="238.10" r="2.15" fill="#355691" stroke="#05060c" stroke-width="1.0"/>
<circle cx="373.23" cy="238.10" r="2.15" fill="#355691" stroke="#05060c" stroke-width="1.0"/>
<circle cx="334.80" cy="242.43" r="2.15" fill="#355691" stroke="#05060c" stroke-width="1.0"/>
<circle cx="340.29" cy="242.43" r="2.15" fill="#355691" stroke="#05060c" stroke-width="1.0"/>
<circle cx="345.78" cy="242.43" r="2.15" fill="#355691" stroke="#05060c" stroke-width="1.0"/>
<circle cx="351.27" cy="242.43" r="2.15" fill="#355691" stroke="#05060c" stroke-width="1.0"/>
<circle cx="356.76" cy="242.43" r="2.15" fill="#355691" stroke="#05060c" stroke-width="1.0"/>
<circle cx="362.25" cy="242.43" r="2.15" fill="#355691" stroke="#05060c" stroke-width="1.0"/>
<circle cx="367.74" cy="242.43" r="2.15" fill="#355691" stroke="#05060c" stroke-width="1.0"/>
<circle cx="373.23" cy="242.43" r="2.15" fill="#355691" stroke="#05060c" stroke-width="1.0"/>
<circle cx="334.80" cy="246.76" r="2.15" fill="#355691" stroke="#05060c" stroke-width="1.0"/>
<circle cx="340.29" cy="246.76" r="2.15" fill="#355691" stroke="#05060c" stroke-width="1.0"/>
<circle cx="345.78" cy="246.76" r="2.15" fill="#355691" stroke="#05060c" stroke-width="1.0"/>
<circle cx="351.27" cy="246.76" r="2.15" fill="#355691" stroke="#05060c" stroke-width="1.0"/>
<circle cx="356.76" cy="246.76" r="2.15" fill="#355691" stroke="#05060c" stroke-width="1.0"/>
<circle cx="362.25" cy="246.76" r="2.15" fill="#355691" stroke="#05060c" stroke-width="1.0"/>
<circle cx="367.74" cy="246.76" r="2.15" fill="#355691" stroke="#05060c" stroke-width="1.0"/>
<circle cx="373.23" cy="246.76" r="2.15" fill="#355691" stroke="#05060c" stroke-width="1.0"/>
<circle cx="334.80" cy="251.09" r="2.15" fill="#355691" stroke="#05060c" stroke-width="1.0"/>
<circle cx="340.29" cy="251.09" r="2.15" fill="#355691" stroke="#05060c" stroke-width="1.0"/>
<circle cx="345.78" cy="251.09" r="2.15" fill="#355691" stroke="#05060c" stroke-width="1.0"/>
<circle cx="351.27" cy="251.09" r="2.15" fill="#355691" stroke="#05060c" stroke-width="1.0"/>
<circle cx="356.76" cy="251.09" r="2.15" fill="#355691" stroke="#05060c" stroke-width="1.0"/>
<circle cx="362.25" cy="251.09" r="2.15" fill="#355691" stroke="#05060c" stroke-width="1.0"/>
<circle cx="367.74" cy="251.09" r="2.15" fill="#355691" stroke="#05060c" stroke-width="1.0"/>
<circle cx="373.23" cy="251.09" r="2.15" fill="#355691" stroke="#05060c" stroke-width="1.0"/>
<circle cx="378.60" cy="242.10" r="2.15" fill="#355691" stroke="#05060c" stroke-width="1.0"/>
<circle cx="378.60" cy="247.10" r="2.15" fill="#355691" stroke="#05060c" stroke-width="1.0"/>
</g>
<rect x="0.5" y="0.5" width="518.9" height="295.9" fill="none" stroke="#000" stroke-width="1.1"/>
<rect x="0" y="295.75" width="520" height="1.25" fill="#000"/>
</svg>
</body></html>
